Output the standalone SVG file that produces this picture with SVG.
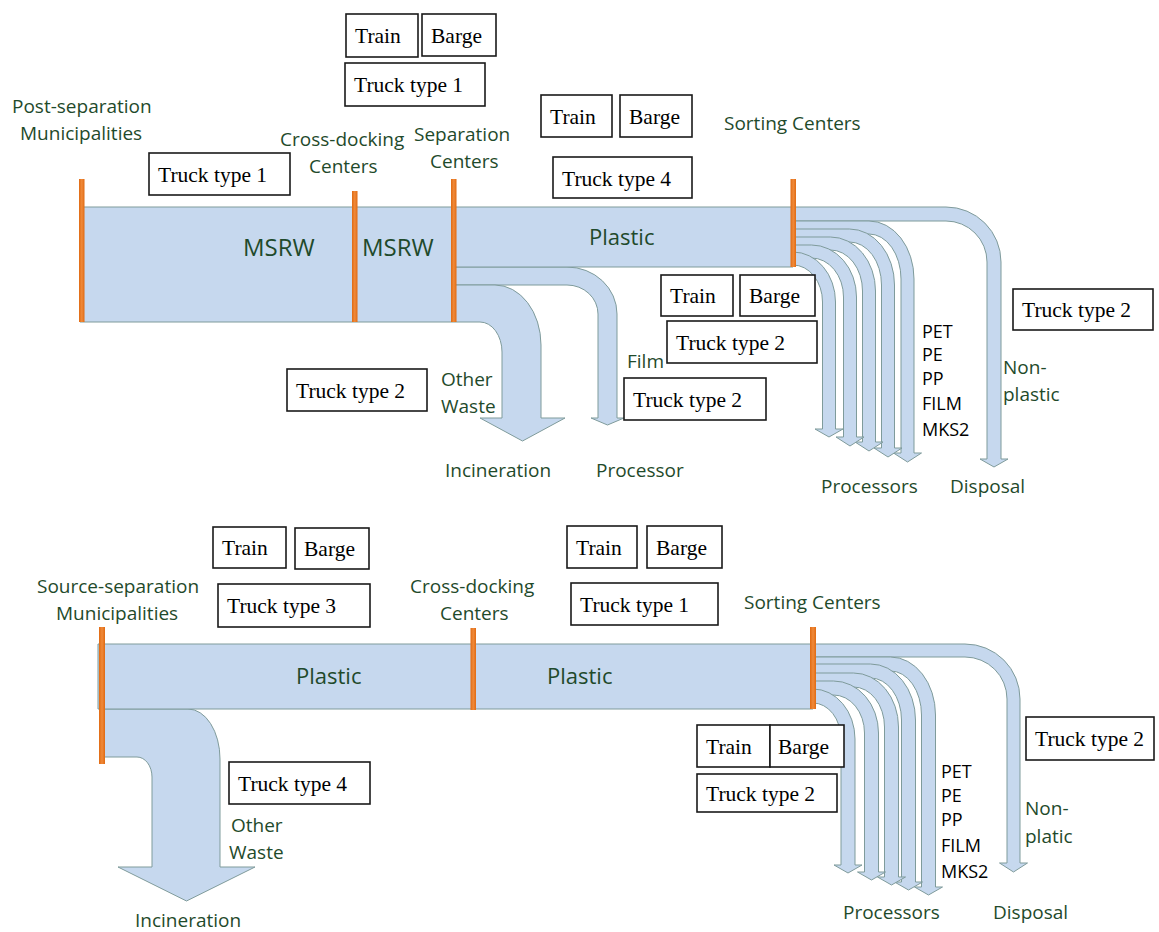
<svg xmlns="http://www.w3.org/2000/svg" width="1159" height="932" viewBox="0 0 1159 932">
  <style>
    .flow { fill: #C6D8EE; stroke: #7F9B9B; stroke-width: 1; }
    .bar { fill: url(#barGrad); }
    .box rect { fill: #FFFFFF; stroke: #1A1A1A; stroke-width: 1.6; }
    .box text { font-family: "Liberation Serif", "Times New Roman", serif; font-size: 21.5px; fill: #000000; }
    .lbl { font-family: "Open Sans", "Noto Sans", sans-serif; font-size: 19px; fill: #1F4A2B; }
    .big { font-family: "Open Sans", "Noto Sans", sans-serif; font-size: 24px; fill: #1F4A2B; }
    .mat { font-family: "Open Sans", "Noto Sans", sans-serif; font-size: 18px; fill: #000000; }
  </style>
  <defs>
    <linearGradient id="barGrad" x1="0" y1="0" x2="1" y2="0">
      <stop offset="0" stop-color="#E06A12"/>
      <stop offset="0.5" stop-color="#F08A3A"/>
      <stop offset="1" stop-color="#E06A12"/>
    </linearGradient>
  </defs>
  <rect width="1159" height="932" fill="#FFFFFF"/>

  <!-- ===== Post-separation chain ===== -->
  <g id="connectors-top">
    <!-- non-plastic branch -->
    <path class="flow" d="M793 207 H946 A55 55 0 0 1 1001 262 V459 H1008 L994 467 L980 459 H987 V262 A41 41 0 0 0 946 221 H793 Z"/>
    <!-- material branches, outermost first -->
    <path class="flow" d="M793 221 H869 A45 58 0 0 1 914 279 V453 H921.5 L907.5 462 L893.5 453 H901 V279 A32 45 0 0 0 869 234 H793 Z"/>
    <path class="flow" d="M793 229 H849.5 A45 56 0 0 1 894.5 285 V448 H902 L888 457 L874 448 H881.5 V285 A32 43 0 0 0 849.5 242 H793 Z"/>
    <path class="flow" d="M793 237 H830.5 A45 54 0 0 1 875.5 291 V442 H883 L869 451 L855 442 H862.5 V291 A32 41 0 0 0 830.5 250 H793 Z"/>
    <path class="flow" d="M793 245 H811.5 A45 52 0 0 1 856.5 297 V437 H864 L850 446 L836 437 H843.5 V297 A32 39 0 0 0 811.5 258 H793 Z"/>
    <path class="flow" d="M793 252 A42.5 50 0 0 1 835.5 302 V429 H843 L829 437 L815 429 H822.5 V302 A29.5 37 0 0 0 793 265 Z"/>
    <!-- film to processor -->
    <path class="flow" d="M455 267 H567 A50 47 0 0 1 617 314 V418 H624 L607.5 425 L591 418 H598 V314 A31 29 0 0 0 567 285 H455 Z"/>
    <!-- other waste to incineration -->
    <path class="flow" d="M455 285 H495 A46 60 0 0 1 541 345 V418 H565 L522.5 441 L480 418 H502 V352 A22 30 0 0 0 480 322 H455 Z"/>
    <!-- main MSRW / plastic band -->
    <path class="flow" d="M80 207 H793 V267 H455 V322 H80 Z"/>
  </g>

  <g id="node-postsep-municipalities">
    <rect class="bar" x="79" y="179" width="5.5" height="143"/>
    <text class="lbl" x="12" y="113">Post-separation</text>
    <text class="lbl" x="20" y="140">Municipalities</text>
  </g>
  <g id="node-crossdock-top">
    <rect class="bar" x="352" y="191" width="5.5" height="131"/>
    <text class="lbl" x="280" y="146">Cross-docking</text>
    <text class="lbl" x="309" y="173">Centers</text>
  </g>
  <g id="node-separation">
    <rect class="bar" x="451" y="179" width="5.5" height="143"/>
    <text class="lbl" x="414" y="141">Separation</text>
    <text class="lbl" x="430" y="168">Centers</text>
  </g>
  <g id="node-sorting-top">
    <rect class="bar" x="790.5" y="179" width="5.5" height="88"/>
    <text class="lbl" x="724" y="130">Sorting Centers</text>
  </g>

  <g id="labels-top">
    <text class="big" x="243" y="256">MSRW</text>
    <text class="big" x="362" y="256">MSRW</text>
    <text class="big" x="589" y="245" style="font-size:22px">Plastic</text>
    <text class="lbl" x="441" y="386">Other</text>
    <text class="lbl" x="441" y="413">Waste</text>
    <text class="lbl" x="627" y="368">Film</text>
    <text class="lbl" x="445" y="477">Incineration</text>
    <text class="lbl" x="596" y="477">Processor</text>
    <text class="mat" x="922" y="338">PET</text>
    <text class="mat" x="922" y="361">PE</text>
    <text class="mat" x="922" y="385">PP</text>
    <text class="mat" x="922" y="410">FILM</text>
    <text class="mat" x="922" y="436">MKS2</text>
    <text class="lbl" x="1003" y="374">Non-</text>
    <text class="lbl" x="1003" y="401">plastic</text>
    <text class="lbl" x="821" y="493">Processors</text>
    <text class="lbl" x="950" y="493">Disposal</text>
  </g>

  <g id="transport-top">
    <g class="box"><rect x="346" y="14" width="72" height="43"/><text x="355" y="43">Train</text></g>
    <g class="box"><rect x="422" y="14" width="74" height="42"/><text x="431" y="43">Barge</text></g>
    <g class="box"><rect x="345" y="63" width="140" height="43"/><text x="354" y="92">Truck type 1</text></g>
    <g class="box"><rect x="149" y="153" width="141" height="42"/><text x="158" y="182">Truck type 1</text></g>
    <g class="box"><rect x="541" y="95" width="71" height="42"/><text x="550" y="124">Train</text></g>
    <g class="box"><rect x="620" y="95" width="72" height="42"/><text x="629" y="124">Barge</text></g>
    <g class="box"><rect x="553" y="157" width="139" height="41"/><text x="562" y="186">Truck type 4</text></g>
    <g class="box"><rect x="661" y="275" width="72" height="41"/><text x="670" y="303">Train</text></g>
    <g class="box"><rect x="740" y="275" width="75" height="41"/><text x="749" y="303">Barge</text></g>
    <g class="box"><rect x="667" y="321" width="150" height="42"/><text x="676" y="350">Truck type 2</text></g>
    <g class="box"><rect x="624" y="378" width="142" height="42"/><text x="633" y="407">Truck type 2</text></g>
    <g class="box"><rect x="287" y="369" width="140" height="42"/><text x="296" y="398">Truck type 2</text></g>
    <g class="box"><rect x="1013" y="289" width="140" height="41"/><text x="1022" y="317">Truck type 2</text></g>
  </g>

  <!-- ===== Source-separation chain ===== -->
  <g id="connectors-bottom">
    <path class="flow" d="M813 644 H965 A55 55 0 0 1 1020 699 V863 H1027.5 L1013.5 872 L999.5 863 H1007 V699 A42 42 0 0 0 965 657 H813 Z"/>
    <path class="flow" d="M813 657 H890.5 A45 58 0 0 1 935.5 715 V887 H942.5 L928.5 895 L914.5 887 H921.5 V715 A31 44 0 0 0 890.5 671 H813 Z"/>
    <path class="flow" d="M813 664 H870.5 A45 56 0 0 1 915.5 720 V882 H922.5 L908.5 890 L894.5 882 H901.5 V720 A31 42 0 0 0 870.5 678 H813 Z"/>
    <path class="flow" d="M813 673 H853.5 A45 54 0 0 1 898.5 727 V877 H905.5 L891.5 885 L877.5 877 H884.5 V727 A31 40 0 0 0 853.5 687 H813 Z"/>
    <path class="flow" d="M813 681 H833.5 A45 52 0 0 1 878.5 733 V872 H885.5 L871.5 880 L857.5 872 H864.5 V733 A31 38 0 0 0 833.5 695 H813 Z"/>
    <path class="flow" d="M813 689 A42 50 0 0 1 855 739 V865 H862 L848 873 L834 865 H841 V739 A28 36 0 0 0 813 703 Z"/>
    <!-- other waste to incineration -->
    <path class="flow" d="M102 709 H188 A32 50 0 0 1 220 759 V867 H255 L186.5 901 L118 867 H152 V777 A15 20 0 0 0 137 757 H102 Z"/>
    <!-- main plastic band -->
    <path class="flow" d="M98 644 H813 V709 H98 Z"/>
  </g>

  <g id="node-sourcesep-municipalities">
    <rect class="bar" x="99" y="627" width="6" height="137"/>
    <text class="lbl" x="37" y="593">Source-separation</text>
    <text class="lbl" x="56" y="620">Municipalities</text>
  </g>
  <g id="node-crossdock-bottom">
    <rect class="bar" x="470.5" y="628" width="5.5" height="82"/>
    <text class="lbl" x="410" y="593">Cross-docking</text>
    <text class="lbl" x="440" y="620">Centers</text>
  </g>
  <g id="node-sorting-bottom">
    <rect class="bar" x="810" y="627" width="6" height="82"/>
    <text class="lbl" x="744" y="609">Sorting Centers</text>
  </g>

  <g id="labels-bottom">
    <text class="big" x="296" y="684" style="font-size:22px">Plastic</text>
    <text class="big" x="547" y="684" style="font-size:22px">Plastic</text>
    <text class="lbl" x="231" y="832">Other</text>
    <text class="lbl" x="229" y="859">Waste</text>
    <text class="lbl" x="135" y="927">Incineration</text>
    <text class="mat" x="941" y="778">PET</text>
    <text class="mat" x="941" y="802">PE</text>
    <text class="mat" x="941" y="826">PP</text>
    <text class="mat" x="941" y="852">FILM</text>
    <text class="mat" x="941" y="878">MKS2</text>
    <text class="lbl" x="1025" y="815">Non-</text>
    <text class="lbl" x="1025" y="843">platic</text>
    <text class="lbl" x="843" y="919">Processors</text>
    <text class="lbl" x="993" y="919">Disposal</text>
  </g>

  <g id="transport-bottom">
    <g class="box"><rect x="213" y="527" width="73" height="41"/><text x="222" y="555">Train</text></g>
    <g class="box"><rect x="295" y="528" width="74" height="41"/><text x="304" y="556">Barge</text></g>
    <g class="box"><rect x="218" y="584" width="152" height="43"/><text x="227" y="613">Truck type 3</text></g>
    <g class="box"><rect x="567" y="526" width="70" height="42"/><text x="576" y="555">Train</text></g>
    <g class="box"><rect x="647" y="526" width="75" height="42"/><text x="656" y="555">Barge</text></g>
    <g class="box"><rect x="571" y="583" width="147" height="42"/><text x="580" y="612">Truck type 1</text></g>
    <g class="box"><rect x="229" y="762" width="141" height="42"/><text x="238" y="791">Truck type 4</text></g>
    <g class="box"><rect x="697" y="725" width="73" height="42"/><text x="706" y="754">Train</text></g>
    <g class="box"><rect x="770" y="725" width="74" height="42"/><text x="778" y="754">Barge</text></g>
    <g class="box"><rect x="697" y="774" width="140" height="38"/><text x="706" y="801">Truck type 2</text></g>
    <g class="box"><rect x="1026" y="717" width="128" height="43"/><text x="1035" y="746">Truck type 2</text></g>
  </g>
</svg>
